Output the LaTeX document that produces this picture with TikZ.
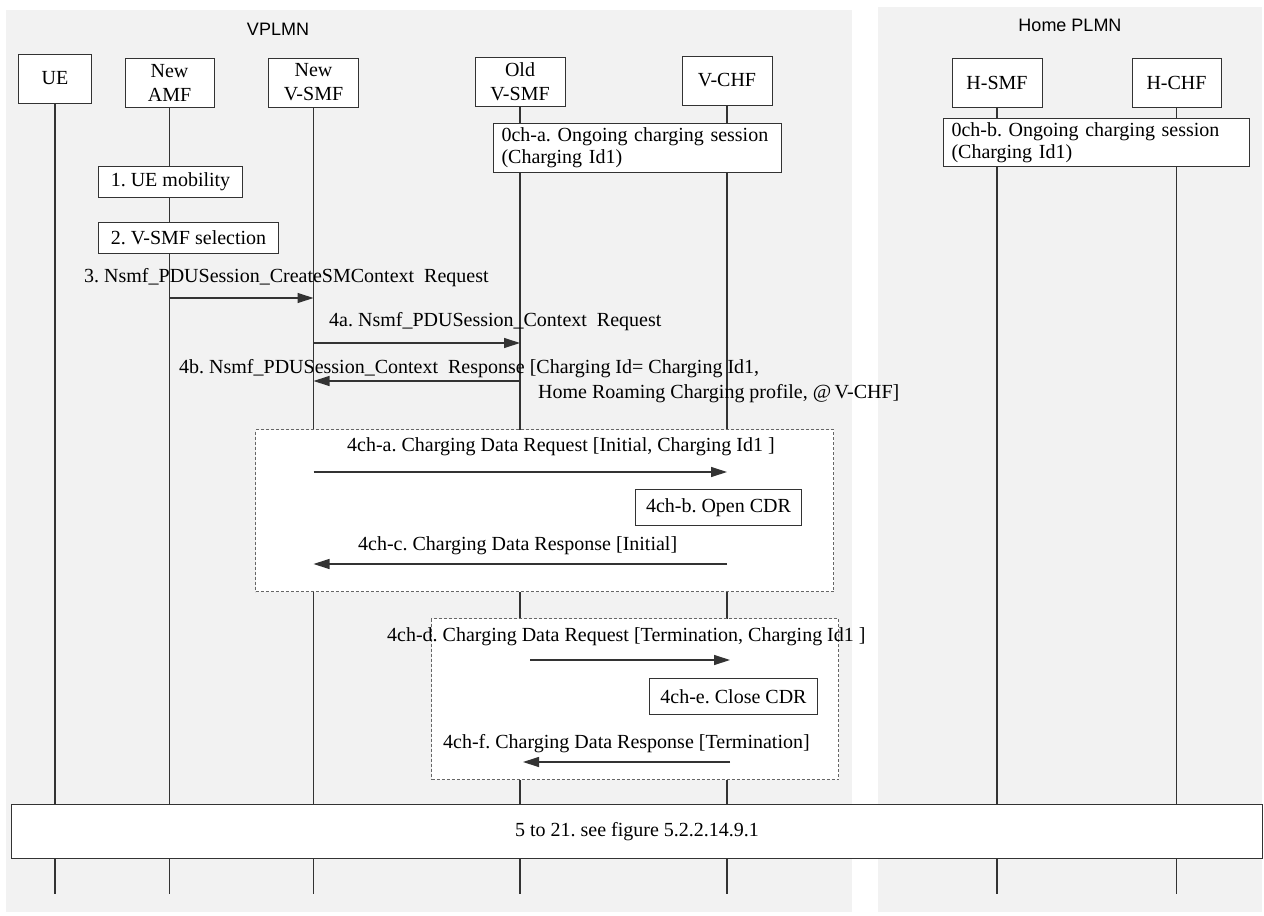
\documentclass[tikz,border=0pt]{standalone}
\usepackage{fontspec}
\setmainfont{Liberation Serif}
\newfontfamily\labelsans{Liberation Sans}
\usetikzlibrary{arrows.meta,calc}
\pgfdeclarelayer{panels}
\pgfdeclarelayer{lines}
\pgfsetlayers{panels,lines,main}
\definecolor{panelgray}{HTML}{F2F2F2}
\definecolor{ink}{HTML}{333333}
\definecolor{dashgray}{HTML}{666666}
\frenchspacing
\begin{document}
\begin{tikzpicture}[x=1bp,y=-1bp,
  font=\fontsize{20bp}{24bp}\selectfont,
  headbox/.style={draw=ink, line width=1bp, fill=white, align=center, minimum height=49bp, inner sep=0pt},
  stepbox/.style={draw=ink, line width=1bp, fill=white, inner sep=0pt, minimum height=31bp, anchor=north west},
  notebox/.style={draw=ink, line width=1bp, fill=white, align=left, inner xsep=8bp, inner ysep=0pt, anchor=north west, font=\fontsize{20bp}{22bp}\selectfont},
  groupbox/.style={draw=dashgray, line width=1bp, dash pattern=on 3bp off 2bp, fill=white, anchor=north west, inner sep=0pt},
  lifeline/.style={draw=ink, line width=1.3bp},
  msg/.style={draw=ink, line width=1.2bp, -{Triangle[length=16bp,width=10bp]}},
  lbl/.style={anchor=west, inner sep=0pt, text height=0.7em, text depth=0.2em},
  plmn/.style={font=\labelsans\fontsize{18bp}{21bp}\selectfont, inner sep=0pt}
]
\useasboundingbox (0,0) rectangle (1264,916);
\begin{pgfonlayer}{panels}
  \fill[white] (0,0) rectangle (1264,916);
  \fill[panelgray] (6,10) rectangle (852,912);
  \fill[panelgray] (878,7) rectangle (1262,912);
\end{pgfonlayer}
\node[plmn] (vlbl) at (278,29) {VPLMN};
\node[plmn] (hlbl) at (1070,25) {Home PLMN};

% participants
\node[headbox, minimum width=73bp] (ue) at (55,78.5) {UE};
\node[headbox, minimum width=89bp] (amf) at (169.5,82.5) {New\\AMF};
\node[headbox, minimum width=90bp] (nsmf) at (313.5,82.5) {New\\V-SMF};
\node[headbox, minimum width=90bp] (osmf) at (520,81.5) {Old\\V-SMF};
\node[headbox, minimum width=90bp] (vchf) at (727,80.5) {V-CHF};
\node[headbox, minimum width=90bp] (hsmf) at (997,82.5) {H-SMF};
\node[headbox, minimum width=89bp] (hchf) at (1176.5,82.5) {H-CHF};

\coordinate (bottom) at (0,894);
\begin{pgfonlayer}{lines}
  \foreach \p in {ue,amf,nsmf,osmf,vchf,hsmf,hchf}
    \draw[lifeline] (\p.south) -- (\p.south |- bottom);
\end{pgfonlayer}

% notes
\node[notebox, text width=272bp, minimum height=49bp] (n0a) at (493,123) {0ch-a. Ongoing charging session\\(Charging Id1)};
\node[notebox, text width=290bp, minimum height=48bp] (n0b) at (943,118) {0ch-b. Ongoing charging session\\(Charging Id1)};
\node[stepbox, minimum width=144bp] (s1) at (98,166) {1. UE mobility};
\node[stepbox, minimum width=180bp] (s2) at (98,222) {2. V-SMF selection};

% group boxes
\node[groupbox, minimum width=578bp, minimum height=162bp] (g1) at (255,429) {};
\node[groupbox, minimum width=407bp, minimum height=161bp] (g2) at (431,618) {};
\node[stepbox, minimum width=166bp, minimum height=36bp] (cdr1) at (635,489) {4ch-b. Open CDR};
\node[stepbox, minimum width=168bp, minimum height=36bp] (cdr2) at (649,678) {4ch-e. Close CDR};
\node[stepbox, minimum width=1251bp, minimum height=54bp] (rest) at (11,804) {5 to 21. see figure 5.2.2.14.9.1};

% messages
\coordinate (y3) at (0,298);
\coordinate (y4a) at (0,343);
\coordinate (y4b) at (0,381);
\coordinate (ycha) at (0,472);
\coordinate (ychc) at (0,564);
\coordinate (dStart) at (530,660);
\coordinate (fEnd) at (523,762);
\draw[msg] (amf.south |- y3) -- (nsmf.south |- y3);
\draw[msg] (nsmf.south |- y4a) -- (osmf.south |- y4a);
\draw[msg] (osmf.south |- y4b) -- (nsmf.south |- y4b);
\draw[msg] (nsmf.south |- ycha) -- (vchf.south |- ycha);
\draw[msg] (vchf.south |- ychc) -- (nsmf.south |- ychc);
\draw[msg] (dStart) -- ($(vchf.south |- dStart)+(3,0)$);
\draw[msg] ($(vchf.south |- fEnd)+(3,0)$) -- (fEnd);

% labels
\node[lbl] (l3) at (84,280.5) {3. Nsmf\_PDUSession\_CreateSMContext\ \ Request};
\node[lbl] (l4a) at (329,324.5) {4a. Nsmf\_PDUSession\_Context\ \ Request};
\node[lbl] (l4b) at (179,371.5) {4b. Nsmf\_PDUSession\_Context\ \ Response [Charging Id= Charging Id1,};
\node[lbl] (l4b2) at (538,396.5) {Home Roaming Charging profile, @\,V-CHF]};
\node[lbl] (l4cha) at (347,449.5) {4ch-a. Charging Data Request [Initial, Charging Id1 ]};
\node[lbl] (l4chc) at (358,548.5) {4ch-c. Charging Data Response [Initial]};
\node[lbl] (l4chd) at (387,639.5) {4ch-d. Charging Data Request [Termination, Charging Id1 ]};
\node[lbl] (l4chf) at (443,746.5) {4ch-f. Charging Data Response [Termination]};
\end{tikzpicture}
\end{document}
